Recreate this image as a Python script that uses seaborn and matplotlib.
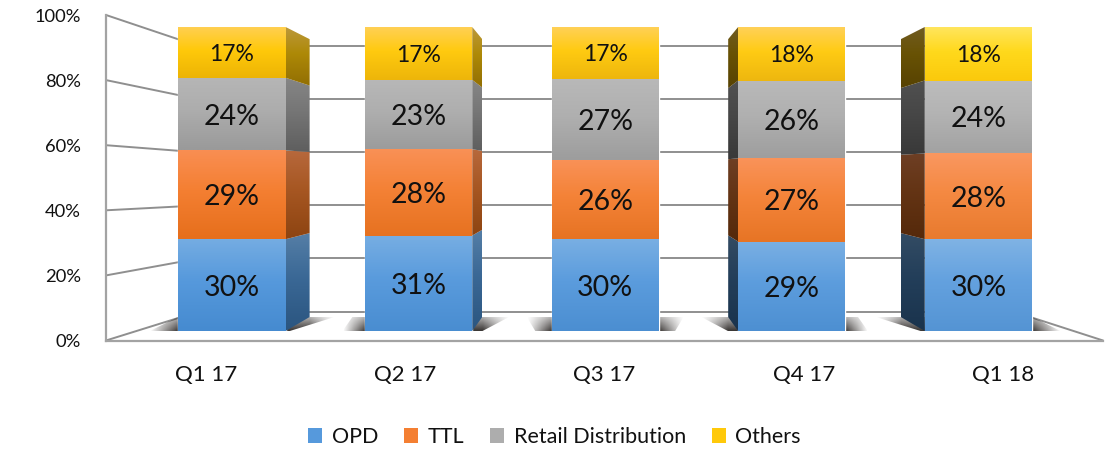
import numpy as np
import matplotlib
matplotlib.use("Agg")
import matplotlib.pyplot as plt
from matplotlib.colors import to_rgb
from matplotlib.patches import Polygon, Patch
import seaborn as sns

categories = ["Q1 17", "Q2 17", "Q3 17", "Q4 17", "Q1 18"]
series = ["OPD", "TTL", "Retail Distribution", "Others"]
opd = [30.2, 31.4, 30.2, 29.4, 30.2]
ttl = [29.2, 28.4, 26.2, 27.4, 28.2]
retail = [23.9, 22.8, 26.6, 25.6, 24.0]
others = [16.7, 17.4, 17.0, 17.6, 17.6]
y_ticks = [0, 20, 40, 60, 80, 100]

W, H = 1114, 449
sns.set_theme(style="white")
plt.rcParams["font.family"] = ["Lato", "DejaVu Sans"]

stops = [
    ["#74ACE2", "#5699DC", "#468BD0"],
    ["#F98E52", "#F47F32", "#E66F1C"],
    ["#B6B6B6", "#ADADAD", "#9A9A9A"],
    ["#FFCF50", "#FFC90A", "#EDB405"],
]
lighten = [0.0, 0.02, 0.03, 0.04, 0.08]
side_dark = [0.70, 0.70, 0.70, 0.42, 0.42]
legend_colors = ["#5699DC", "#F47F32", "#ADADAD", "#FFC90A"]
GRID = "#8F8F8F"


def axes_rect(left, right, top, bottom):
    return [left / W, 1 - bottom / H, (right - left) / W, (bottom - top) / H]


fig = plt.figure(figsize=(W / 100, H / 100), dpi=100, facecolor="white")

# front plane of the box: carries the tick labels and walls
front = fig.add_axes(axes_rect(106, 1103, 15, 340.5))
front.set_xlim(-0.5, 4.5)
front.set_ylim(0, 100)
front.set_xticks(range(5), categories)
front.set_yticks(y_ticks, [f"{t}%" for t in y_ticks])
front.tick_params(axis="x", length=0, pad=18, labelsize=16, labelcolor="#111111")
front.tick_params(axis="y", length=0, pad=18, labelsize=13.2, labelcolor="#111111")
for s in ["top", "right"]:
    front.spines[s].set_visible(False)
for s in ["left", "bottom"]:
    front.spines[s].set_color("#A3A3A3")
    front.spines[s].set_linewidth(1.6)
front.patch.set_alpha(0)

BACK_L, BACK_R = -0.034, 4.05


def back_y(t):
    return 8.9 + 0.815 * t


for t in y_ticks:
    front.plot([-0.5, BACK_L], [t, back_y(t)], color=GRID, lw=1.4, clip_on=False, zorder=1)
    front.plot([BACK_L, BACK_R], [back_y(t), back_y(t)], color=GRID, lw=1.4, clip_on=False, zorder=1)
front.plot([4.5, BACK_R], [0, back_y(0)], color=GRID, lw=1.4, clip_on=False, zorder=1)

# bar plane
ax = fig.add_axes(axes_rect(138.7, 1071.7, 27, 331))
ax.patch.set_alpha(0)
values = [opd, ttl, retail, others]
bottoms = np.zeros(5)
groups = []
for name, vals in zip(series, values):
    n0 = len(ax.patches)
    sns.barplot(x=categories, y=vals, bottom=bottoms, color="#888888", width=0.575,
                ax=ax, saturation=1, errorbar=None, zorder=3)
    groups.append(ax.patches[n0:])
    bottoms = bottoms + np.array(vals)
ax.set_xlim(-0.5, 4.5)
ax.set_ylim(0, 100)
ax.axis("off")


def ramp(colors):
    c = np.array([to_rgb(k) for k in colors])
    pos = np.linspace(0, 1, 48)
    return np.stack([np.interp(pos, [0, 0.45, 1], c[:, j]) for j in range(3)], axis=1)[:, None, :]


def side_x(x):
    return 2 + (x - 2) * 0.925


def side_p(p):
    return 4.6 + 0.914 * p


def painted(img, pts, z):
    xs, ys = zip(*pts)
    im = ax.imshow(img, extent=(min(xs), max(xs), min(ys), max(ys)), aspect="auto",
                   interpolation="bilinear", zorder=z)
    im.set_clip_path(Polygon(pts, closed=True, transform=ax.transData))


# floor shadows
for i in range(5):
    c = i - 2
    Lb, Rb = i - 0.375 + 0.0325 * c, i + 0.375 + 0.0325 * c
    Lt, Rt = i - 0.42 - 0.065 * c, i + 0.42 - 0.065 * c
    bar = groups[0][i]
    xl, xr = bar.get_x(), bar.get_x() + bar.get_width()
    x0, x1 = min(Lb, Lt), max(Rb, Rt)
    gx = np.linspace(x0, x1, 200)
    inner_l = min(xl, side_x(xl))
    inner_r = max(xr, side_x(xr))
    ax_l = np.clip((gx - x0) / max(inner_l - x0, 1e-3), 0, 1)
    ax_r = np.clip((x1 - gx) / max(x1 - inner_r, 1e-3), 0, 1)
    horiz = np.minimum(ax_l, ax_r)
    vert = np.linspace(0.4, 1.0, 20)[:, None]
    img = np.zeros((20, 200, 4))
    img[..., :3] = to_rgb("#2E2A28")
    img[..., 3] = 0.95 * horiz[None, :] * vert
    painted(img, [(Lb, 0), (Rb, 0), (Rt, side_p(0)), (Lt, side_p(0))], 2)

# gradients, side faces and labels
for s, grp in enumerate(groups):
    for i, bar in enumerate(grp):
        xl, w = bar.get_x(), bar.get_width()
        xr = xl + w
        lo, hi = bar.get_y(), bar.get_y() + bar.get_height()
        base = ramp(stops[s])
        tint = base + (1 - base) * lighten[i]
        if i == 4 and s == 3:
            tint = ramp(["#FFE55C", "#FFD91C", "#FBC90C"])
        bar.set_facecolor("none")
        painted(tint, [(xl, lo), (xr, lo), (xr, hi), (xl, hi)], 4)
        edge = xr if side_x(xr) > xr else (xl if side_x(xl) < xl else None)
        if edge is not None:
            shade = base * side_dark[i] * np.linspace(1.05, 0.88, 48)[:, None, None]
            pts = [(edge, lo), (side_x(edge), side_p(lo)),
                   (side_x(edge), side_p(hi)), (edge, hi)]
            painted(np.clip(shade, 0, 1), pts, 3.5)
        ax.text(i, (lo + hi) / 2, f"{bar.get_height():.0f}%", ha="center",
                va="center_baseline", fontsize=16.5 if s == 3 else 20.5,
                color="#111111", zorder=6)

ax.set_xlim(-0.5, 4.5)
ax.set_ylim(0, 100)

handles = [Patch(facecolor=c, edgecolor="none", label=n) for c, n in zip(legend_colors, series)]
fig.legend(handles=handles, loc="center", bbox_to_anchor=(554.5 / W, 1 - 437 / H), ncol=4,
           frameon=False, fontsize=15.5, handlelength=0.65, handleheight=0.7,
           handletextpad=0.45, columnspacing=1.2, labelcolor="#111111")

fig.savefig("out.png", dpi=100, facecolor="white")
